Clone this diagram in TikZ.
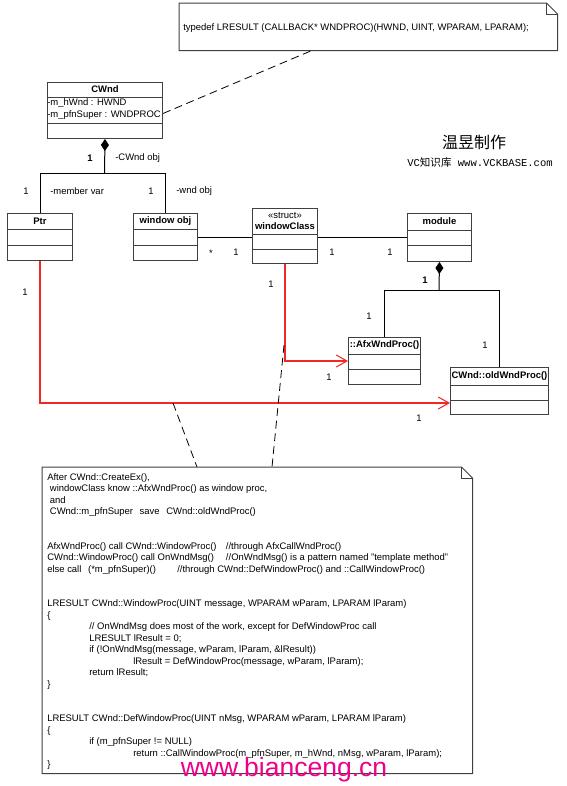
\documentclass[tikz,border=0pt]{standalone}
\usepackage{fontspec}
\setmainfont{Liberation Sans}
\newfontfamily\cjk{Noto Sans CJK SC}
\newfontfamily\vcmono{Liberation Mono}
\usetikzlibrary{arrows.meta,positioning}

\definecolor{linkred}{RGB}{240,40,40}
\newcommand{\unitpx}{0.75pt}
\newcommand{\umlfont}{\fontsize{7.1}{8.625}\selectfont}

\tikzset{
  boxline/.style={draw=black!75, line width=0.75pt},
  classbox/.style={boxline, fill=white, inner sep=0pt},
  classname/.style={font=\umlfont\bfseries, inner sep=0pt, align=center},
  notebox/.style={inner sep=0pt},
  mult/.style={inner sep=0pt},
  role/.style={inner sep=0pt, anchor=west},
  comp/.style={draw=black, line width=0.75pt},
  redlink/.style={draw=linkred, line width=0.8pt},
  notelink/.style={draw=black, line width=0.6pt, dash pattern=on 6pt off 3.5pt},
}

% uml class: name, top left, width, three row heights, title
\newcommand{\umlclass}[7]{%
  \node[classbox, anchor=north west, minimum width=#3*\unitpx,
        minimum height=(#4+#5+#6)*\unitpx] (#1) at #2 {};
  \draw[boxline] ([yshift=-#4*\unitpx]#1.north west) -- ([yshift=-#4*\unitpx]#1.north east);
  \draw[boxline] ([yshift=-(#4+#5)*\unitpx]#1.north west) -- ([yshift=-(#4+#5)*\unitpx]#1.north east);
  \node[classname] at ([yshift=-#4*\unitpx/2]#1.north) {#7};
}

% dog-eared outline round a note node
\newcommand{\notefold}[1]{%
  \draw[boxline, fill=white] (#1.south west) -- (#1.north west)
    -- ([xshift=-11*\unitpx]#1.north east) -- ([yshift=-11*\unitpx]#1.north east)
    -- (#1.south east) -- cycle;
  \draw[boxline] ([xshift=-11*\unitpx]#1.north east) |- ([yshift=-11*\unitpx]#1.north east);
}

\begin{document}
\begin{tikzpicture}[x=0.75pt, y=-0.75pt, font=\umlfont]
  \useasboundingbox[fill=white] (0,0) rectangle (567,786);

  % typedef note
  \node[notebox, anchor=north west, minimum width=378*\unitpx, minimum height=47*\unitpx] (typenote) at (179,3) {};
  \notefold{typenote}
  \node[role] (typetext) at (183,28) {typedef LRESULT (CALLBACK* WNDPROC)(HWND, UINT, WPARAM, LPARAM);};

  % classes
  \umlclass{cwnd}{(47,82)}{115}{15}{26}{15}{CWnd}
  \node[inner sep=0pt, anchor=west, align=left, font=\fontsize{7.1}{9}\selectfont] (cwndattr) at (47,109.5)
    {-m\_hWnd : HWND\\-m\_pfnSuper : WNDPROC};
  \umlclass{ptr}{(7,213)}{65}{16}{16}{15}{Ptr}
  \umlclass{wobj}{(133,213)}{64}{16}{16}{15}{window obj}
  \umlclass{wcls}{(252,208)}{65}{26}{15}{14}{{\normalfont «struct»}\\windowClass}
  \umlclass{module}{(407,213)}{64}{17}{15}{16}{module}
  \umlclass{afx}{(348,337)}{72}{17}{15}{15}{::AfxWndProc()}
  \umlclass{oldproc}{(450,367)}{98}{18}{15}{14}{CWnd::oldWndProc()}

  % signature
  \node[font=\cjk\fontsize{12}{12}\selectfont] (author) at (474,142) {温昱制作};
  \node[font=\fontsize{7.9}{8}\selectfont] (site) at (480,163)
    {{\vcmono VC}{\cjk 知识库}{\vcmono\ www.VCKBASE.com}};

  % composition CWnd
  \coordinate (cwndfork) at (104.5,173);
  \draw[comp, {Diamond[length=9pt,width=6pt]}-] (cwnd.south) -- (cwndfork);
  \draw[comp] (cwndfork) -| (ptr.north);
  \draw[comp] (cwndfork) -| (wobj.north);
  \node[mult, font=\umlfont\bfseries] at (90,158) {1};
  \node[role] at (115,158) {-CWnd obj};
  \node[mult] at (26,191) {1};
  \node[role] at (50,191) {-member var};
  \node[mult] at (151,191) {1};
  \node[role] at (176,191) {-wnd obj};

  % associations
  \draw[comp] (wobj.east) -- (wobj.east -| wcls.west);
  \node[mult] at (211,253) {*};
  \node[mult] at (236,252) {1};
  \draw[comp] (wcls.east |- module.west) -- (module.west);
  \node[mult] at (332,252) {1};
  \node[mult] at (390,252) {1};

  % composition module
  \coordinate (modfork) at (439,290);
  \draw[comp, {Diamond[length=9pt,width=6pt]}-] (module.south) -- (modfork);
  \draw[comp] (modfork) -| (afx.north);
  \draw[comp] (modfork) -| (oldproc.north);
  \node[mult, font=\umlfont\bfseries] at (425,280) {1};
  \node[mult] at (369,316) {1};
  \node[mult] at (485,345) {1};

  % red links
  \draw[redlink, -{Straight Barb[length=8pt,width=9pt]}] (wcls.south) |- (afx.west);
  \node[mult] at (271,284) {1};
  \node[mult] at (329,377) {1};
  \coordinate (oldhook) at (450,403);
  \draw[redlink, -{Straight Barb[length=8pt,width=9pt]}] (ptr.south) |- (oldhook);
  \node[mult] at (25,292) {1};
  \node[mult] at (419,418) {1};

  % note links
  \coordinate (typefoot) at (313,50);
  \draw[notelink] ([yshift=-3*\unitpx]cwnd.east) -- (typefoot);
  \coordinate (ptrlinkpt) at (173,403);
  \coordinate (flowfootA) at (197,467);
  \draw[notelink] (ptrlinkpt) -- (flowfootA);
  \coordinate (wclslinkpt) at (284,345);
  \coordinate (flowfootB) at (272,467);
  \draw[notelink] (wclslinkpt) -- (flowfootB);

  % big note
  \node[notebox, anchor=north west, minimum width=430*\unitpx, minimum height=306*\unitpx] (flownote) at (42,467) {};
  \notefold{flownote}
  \node[inner sep=0pt, anchor=north west, align=left] (flowtext) at (47,473) {%
    After CWnd::CreateEx(),\\
    \hspace*{2pt}windowClass know ::AfxWndProc() as window proc,\\
    \hspace*{2pt}and\\
    \hspace*{2pt}CWnd::m\_pfnSuper\hspace{5pt}save\hspace{5pt}CWnd::oldWndProc()\\
    \mbox{}\\
    \mbox{}\\
    AfxWndProc() call CWnd::WindowProc()\hspace{7pt}//through AfxCallWndProc()\\
    CWnd::WindowProc() call OnWndMsg()\hspace{9pt}//OnWndMsg() is a pattern named "template method"\\
    else call\hspace{5pt}(*m\_pfnSuper)()\hspace{16pt}//through CWnd::DefWindowProc() and ::CallWindowProc()\\
    \mbox{}\\
    \mbox{}\\
    LRESULT CWnd::WindowProc(UINT message, WPARAM wParam, LPARAM lParam)\\
    \{\\
    \hspace*{31.5pt}// OnWndMsg does most of the work, except for DefWindowProc call\\
    \hspace*{31.5pt}LRESULT lResult = 0;\\
    \hspace*{31.5pt}if (!OnWndMsg(message, wParam, lParam, \&lResult))\\
    \hspace*{64.5pt}lResult = DefWindowProc(message, wParam, lParam);\\
    \hspace*{31.5pt}return lResult;\\
    \}\\
    \mbox{}\\
    \mbox{}\\
    LRESULT CWnd::DefWindowProc(UINT nMsg, WPARAM wParam, LPARAM lParam)\\
    \{\\
    \hspace*{31.5pt}if (m\_pfnSuper != NULL)\\
    \hspace*{64.5pt}return ::CallWindowProc(m\_pfnSuper, m\_hWnd, nMsg, wParam, lParam);\\
    \}};

  % watermark
  \node[anchor=base, inner sep=0pt, text=magenta, font=\fontsize{19.9}{20}\selectfont] (watermark) at (284,776) {www.bianceng.cn};
\end{tikzpicture}
\end{document}
